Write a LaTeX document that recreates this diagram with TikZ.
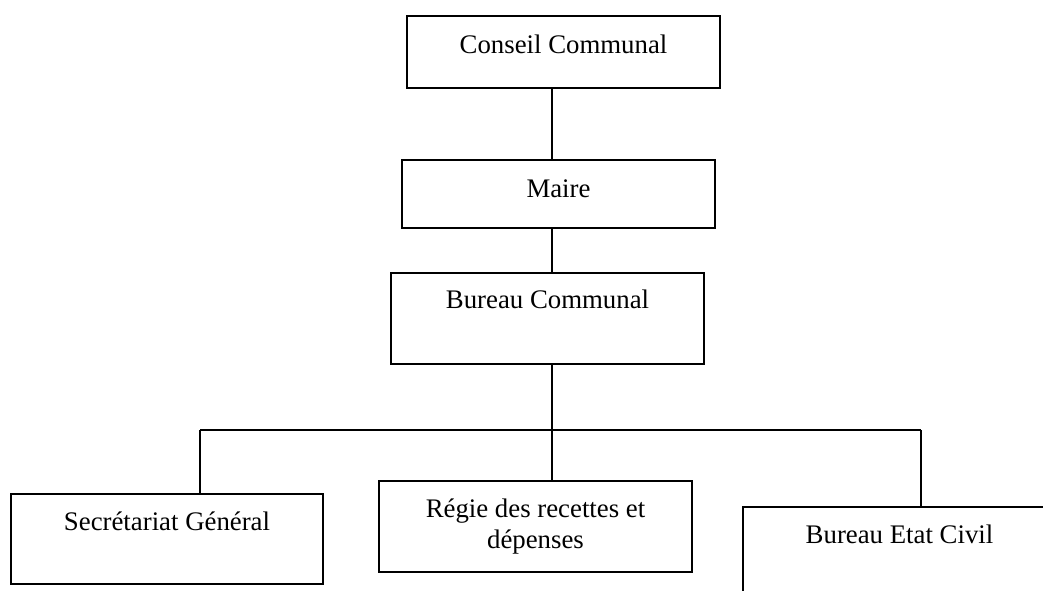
\documentclass[tikz,border=0pt]{standalone}
\usepackage{fontspec}
\setmainfont{Liberation Serif}
\begin{document}
\begin{tikzpicture}[x=1pt,y=-1pt,
  box/.style={draw=black,line width=1.4pt,inner sep=0pt,minimum width=313pt,fill=none},
  txt/.style={font=\fontsize{26.8}{31}\selectfont,inner sep=0pt,anchor=base,align=center},
  conn/.style={line width=1.4pt}]
\useasboundingbox (0,0) rectangle (1043,590);
\clip (0,0) rectangle (1043,590);
% boxes
\node[box,minimum height=72pt] (conseil) at (563.5,52) {};
\node[box,minimum height=68pt] (maire) at (558.5,194) {};
\node[box,minimum height=91pt] (bureau) at (547.5,318.5) {};
\node[box,minimum width=312pt,minimum height=90pt] (secr) at (167,539) {};
\node[box,minimum height=91pt] (regie) at (535.5,526.5) {};
\node[box,minimum height=90pt] (etat) at (899.5,552) {};
% texts
\node[txt] (tconseil) at (563.5,53) {Conseil Communal};
\node[txt] (tmaire) at (558.5,197) {Maire};
\node[txt] (tbureau) at (547.5,308) {Bureau Communal};
\node[txt] (tsecr) at (167,530) {Secrétariat Général};
\node[txt] (tregie) at (535.5,548) {Régie des recettes et\\dépenses};
\node[txt] (tetat) at (899.5,543) {Bureau Etat Civil};
% connectors
\coordinate (j) at (552,430);
\coordinate (bl) at (200,430);
\coordinate (br) at (921,430);
\draw[conn] (conseil.south -| j) -- (maire.north -| j);
\draw[conn] (maire.south -| j) -- (bureau.north -| j);
\draw[conn] (bureau.south -| j) -- (j);
\draw[conn] (bl) -- (br);
\draw[conn] (bl) -- (secr.north -| bl);
\draw[conn] (j) -- (regie.north -| j);
\draw[conn] (br) -- (etat.north -| br);
\end{tikzpicture}
\end{document}
